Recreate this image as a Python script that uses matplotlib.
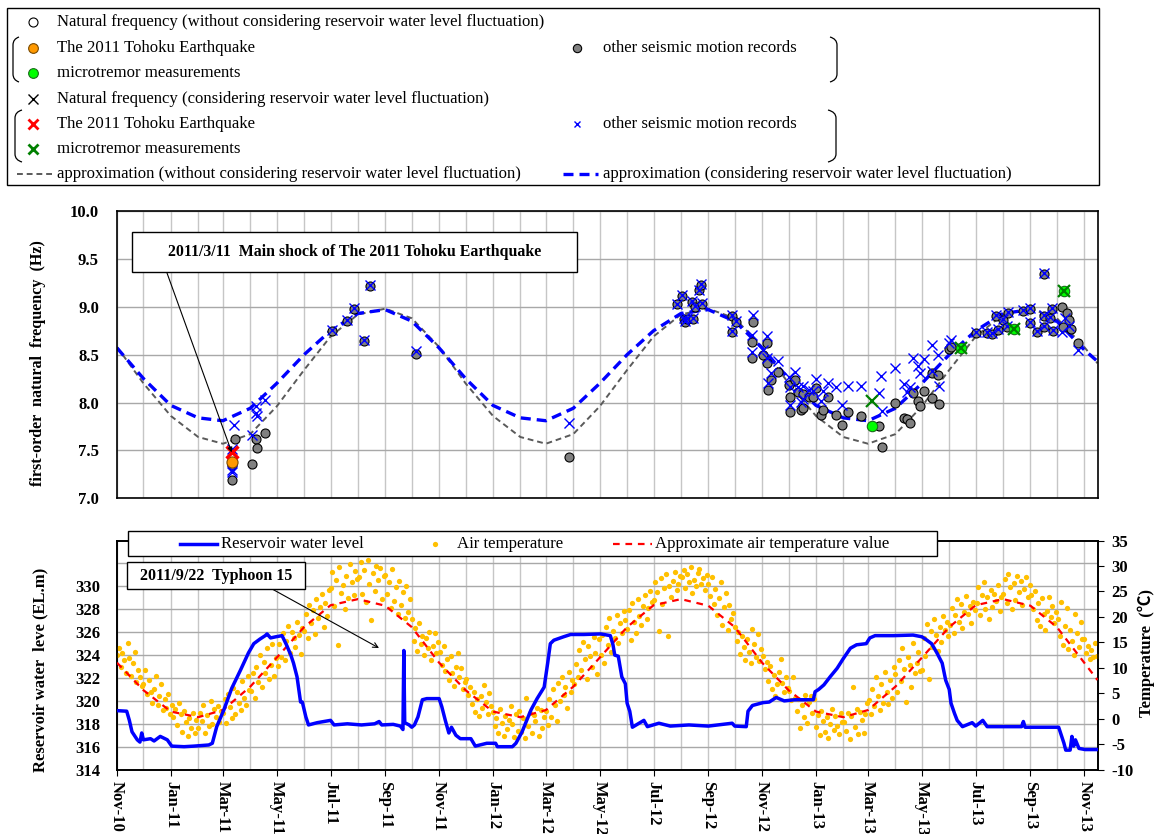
import matplotlib
matplotlib.use("Agg")
import matplotlib.pyplot as plt
import matplotlib.dates as mdates
import matplotlib.ticker as mticker
from matplotlib.patches import Rectangle, PathPatch
from matplotlib.path import Path
import pandas as pd

plt.rcParams["font.family"] = ["Liberation Serif", "Noto Sans CJK JP"]
plt.rcParams["font.weight"] = "bold"
plt.rcParams["axes.unicode_minus"] = False

# ---------------------------------------------------------------- data
x_start, x_end = "2010-11-01", "2013-11-16"

# natural frequency, other seismic motion records (without water level correction)
rec_dates = [
    "2011-03-11", "2011-03-11", "2011-03-15", "2011-04-03", "2011-04-07", "2011-04-09", "2011-04-18",
    "2011-07-03", "2011-07-20", "2011-07-27", "2011-08-08", "2011-08-15", "2011-10-06", "2012-03-27",
    "2012-07-28", "2012-08-02", "2012-08-04", "2012-08-06", "2012-08-08", "2012-08-13", "2012-08-15",
    "2012-08-17", "2012-08-22", "2012-08-24", "2012-08-25", "2012-09-28", "2012-09-28", "2012-10-02",
    "2012-10-22", "2012-10-21", "2012-10-21", "2012-11-02", "2012-11-06", "2012-11-06", "2012-11-08",
    "2012-11-11", "2012-11-19", "2012-12-01", "2012-12-03", "2012-12-03", "2012-12-08", "2012-12-12",
    "2012-12-15", "2012-12-17", "2012-12-17", "2012-12-24", "2012-12-29", "2013-01-01", "2013-01-07",
    "2013-01-09", "2013-01-15", "2013-01-24", "2013-01-30", "2013-02-06", "2013-02-21", "2013-03-13",
    "2013-03-17", "2013-04-01", "2013-04-11", "2013-04-14", "2013-04-18", "2013-04-21", "2013-04-27",
    "2013-04-29", "2013-05-03", "2013-05-12", "2013-05-12", "2013-05-19", "2013-05-20", "2013-06-01",
    "2013-06-03", "2013-07-01", "2013-07-14", "2013-07-20", "2013-07-24", "2013-07-26", "2013-08-01",
    "2013-08-05", "2013-08-07", "2013-08-24", "2013-09-01", "2013-09-01", "2013-09-09", "2013-09-16",
    "2013-09-16", "2013-09-16", "2013-09-23", "2013-09-25", "2013-09-27", "2013-10-07", "2013-10-08",
    "2013-10-12", "2013-10-15", "2013-10-17", "2013-10-25",
]
rec_freq = [
    7.35, 7.19, 7.62, 7.36, 7.62, 7.53, 7.68,
    8.75, 8.85, 8.98, 8.64, 9.22, 8.51, 7.43,
    9.03, 9.11, 8.87, 8.84, 8.87, 9.05, 8.87,
    9.00, 9.17, 9.23, 9.03, 8.90, 8.74, 8.84,
    8.84, 8.63, 8.47, 8.50, 8.62, 8.41, 8.13,
    8.24, 8.32, 8.18, 8.06, 7.90, 8.24, 8.11,
    7.92, 7.94, 8.09, 8.06, 8.06, 8.15, 7.87,
    7.92, 8.06, 7.87, 7.77, 7.90, 7.86, 7.75,
    7.54, 8.00, 7.84, 7.83, 7.79, 8.10, 8.02,
    7.96, 8.12, 8.31, 8.05, 8.29, 7.98, 8.56,
    8.58, 8.73, 8.73, 8.72, 8.90, 8.76, 8.86,
    8.79, 8.94, 8.96, 8.98, 8.83, 8.74, 8.79,
    8.90, 9.34, 8.88, 8.98, 8.75, 9.00, 8.79,
    8.93, 8.86, 8.77, 8.62,
]

# natural frequency, other seismic motion records (with water level correction)
rec_corr_dates = [
    "2011-03-11", "2011-03-11", "2011-03-11", "2011-03-14", "2011-04-03", "2011-04-07", "2011-04-08",
    "2011-04-09", "2011-04-18", "2011-07-03", "2011-07-20", "2011-07-27", "2011-08-08", "2011-08-15",
    "2011-10-06", "2012-03-27", "2012-07-28", "2012-08-02", "2012-08-04", "2012-08-06", "2012-08-08",
    "2012-08-13", "2012-08-15", "2012-08-17", "2012-08-22", "2012-08-24", "2012-08-25", "2012-09-28",
    "2012-09-28", "2012-10-02", "2012-10-22", "2012-10-21", "2012-10-21", "2012-11-02", "2012-11-06",
    "2012-11-06", "2012-11-08", "2012-11-11", "2012-11-19", "2012-12-01", "2012-12-03", "2012-12-03",
    "2012-12-08", "2012-12-12", "2012-12-15", "2012-12-17", "2012-12-17", "2012-12-24", "2012-12-29",
    "2013-01-01", "2013-01-07", "2013-01-09", "2013-01-15", "2013-01-24", "2013-01-30", "2013-02-06",
    "2013-02-21", "2013-03-13", "2013-03-16", "2013-03-17", "2013-04-01", "2013-04-11", "2013-04-14",
    "2013-04-18", "2013-04-21", "2013-04-27", "2013-04-29", "2013-05-03", "2013-05-12", "2013-05-12",
    "2013-05-19", "2013-05-20", "2013-06-01", "2013-06-03", "2013-07-01", "2013-07-14", "2013-07-20",
    "2013-07-24", "2013-07-26", "2013-08-01", "2013-08-05", "2013-08-07", "2013-08-24", "2013-09-01",
    "2013-09-01", "2013-09-09", "2013-09-16", "2013-09-16", "2013-09-16", "2013-09-23", "2013-09-25",
    "2013-09-27", "2013-10-07", "2013-10-10", "2013-10-15", "2013-10-25",
]
rec_corr_freq = [
    7.52, 7.30, 7.27, 7.77, 7.66, 7.89, 7.96,
    7.86, 8.03, 8.76, 8.86, 8.99, 8.65, 9.23,
    8.54, 7.79, 9.03, 9.12, 8.88, 8.85, 8.88,
    9.06, 8.88, 9.01, 9.18, 9.24, 9.04, 8.91,
    8.75, 8.85, 8.91, 8.70, 8.53, 8.55, 8.69,
    8.47, 8.20, 8.31, 8.43, 8.27, 8.16, 7.97,
    8.32, 8.16, 8.01, 8.04, 8.17, 8.13, 8.12,
    8.25, 8.02, 8.12, 8.20, 8.16, 7.97, 8.17,
    8.17, 8.10, 8.28, 7.91, 8.36, 8.19, 8.11,
    8.16, 8.47, 8.38, 8.31, 8.45, 8.60, 8.33,
    8.50, 8.17, 8.62, 8.65, 8.74, 8.74, 8.73,
    8.91, 8.77, 8.87, 8.80, 8.95, 8.97, 8.99,
    8.84, 8.75, 8.80, 8.91, 9.35, 8.89, 8.99,
    8.76, 8.74, 8.88, 8.80, 8.55,
]

# 2011 Tohoku Earthquake main shock
quake_date = "2011-03-11"
quake_freq = 7.38
quake_freq_corr = 7.48

# microtremor measurements
micro_dates = ["2013-03-06", "2013-06-14", "2013-08-13", "2013-10-09"]
micro_freq = [7.75, 8.57, 8.77, 9.16]
micro_freq_corr = [8.02, 8.57, 8.77, 9.16]

# approximation curves, first of each month from Nov-10 to Nov-13, plus the axis end
approx_dates = [d.strftime("%Y-%m-%d") for d in pd.date_range("2010-11-01", "2013-11-01", freq="MS")] + [x_end]
approx_plain = [
    8.58, 8.20, 7.86, 7.64, 7.57, 7.67, 7.96, 8.34, 8.69, 8.92, 8.98, 8.88,
    8.58, 8.20, 7.86, 7.64, 7.57, 7.67, 7.96, 8.34, 8.69, 8.92, 8.98, 8.88,
    8.58, 8.20, 7.86, 7.64, 7.57, 7.67, 7.96, 8.34, 8.69, 8.92, 8.98, 8.88,
    8.58, 8.41,
]
approx_corr = [
    8.57, 8.25, 7.97, 7.84, 7.81, 7.94, 8.20, 8.50, 8.75, 8.93, 8.97, 8.85,
    8.57, 8.25, 7.97, 7.84, 7.81, 7.94, 8.20, 8.50, 8.75, 8.93, 8.97, 8.85,
    8.57, 8.25, 7.97, 7.84, 7.81, 7.94, 8.20, 8.50, 8.75, 8.93, 8.97, 8.85,
    8.55, 8.43,
]
approx_temp = [
    11.0, 5.6, 1.4, 0.3, 1.7, 6.3, 12.0, 18.0, 22.3, 23.5, 22.2, 18.0,
    11.0, 5.6, 1.4, 0.3, 1.7, 6.3, 12.0, 18.0, 22.3, 23.5, 22.2, 18.0,
    11.0, 5.6, 1.4, 0.3, 1.7, 6.3, 12.0, 18.0, 22.3, 23.5, 22.2, 18.0,
    11.0, 7.6,
]

# reservoir water level (EL.m)
level_dates = [
    "2010-11-01", "2010-11-12", "2010-11-15", "2010-11-18", "2010-11-24", "2010-11-27", "2010-11-29",
    "2010-12-01", "2010-12-09", "2010-12-13", "2010-12-20", "2010-12-28", "2011-01-02", "2011-01-16",
    "2011-01-27", "2011-02-13", "2011-02-17", "2011-02-22", "2011-03-02", "2011-03-11", "2011-03-21",
    "2011-03-30", "2011-04-05", "2011-04-12", "2011-04-18", "2011-04-20", "2011-04-24", "2011-04-30",
    "2011-05-07", "2011-05-12", "2011-05-17", "2011-05-20", "2011-05-24", "2011-05-26", "2011-05-28",
    "2011-05-30", "2011-06-03", "2011-06-06", "2011-06-16", "2011-07-01", "2011-07-05", "2011-07-20",
    "2011-08-05", "2011-08-20", "2011-08-25", "2011-08-28", "2011-09-10", "2011-09-18", "2011-09-21",
    "2011-09-22", "2011-09-23", "2011-09-28", "2011-10-01", "2011-10-04", "2011-10-08", "2011-10-13",
    "2011-10-18", "2011-11-01", "2011-11-04", "2011-11-08", "2011-11-12", "2011-11-15", "2011-11-20",
    "2011-11-25", "2011-12-07", "2011-12-12", "2011-12-25", "2012-01-04", "2012-01-06", "2012-01-23",
    "2012-01-27", "2012-02-03", "2012-02-13", "2012-02-20", "2012-02-28", "2012-03-03", "2012-03-06",
    "2012-03-10", "2012-03-21", "2012-03-29", "2012-04-13", "2012-05-02", "2012-05-13", "2012-05-16",
    "2012-05-18", "2012-05-22", "2012-05-26", "2012-05-30", "2012-06-01", "2012-06-04", "2012-06-07",
    "2012-06-20", "2012-06-24", "2012-07-07", "2012-07-20", "2012-08-10", "2012-09-01", "2012-09-28",
    "2012-10-01", "2012-10-14", "2012-10-16", "2012-10-21", "2012-11-02", "2012-11-09", "2012-11-17",
    "2012-11-26", "2012-12-08", "2012-12-29", "2012-12-31", "2013-01-04", "2013-01-10", "2013-01-17",
    "2013-01-25", "2013-02-01", "2013-02-09", "2013-02-16", "2013-02-27", "2013-03-03", "2013-03-09",
    "2013-03-30", "2013-04-21", "2013-05-01", "2013-05-05", "2013-05-12", "2013-05-18", "2013-05-24",
    "2013-05-28", "2013-06-01", "2013-06-03", "2013-06-07", "2013-06-10", "2013-06-16", "2013-06-27",
    "2013-07-01", "2013-07-09", "2013-07-14", "2013-08-22", "2013-08-24", "2013-08-26", "2013-10-03",
    "2013-10-09", "2013-10-11", "2013-10-16", "2013-10-18", "2013-10-20", "2013-10-22", "2013-10-26",
    "2013-11-02", "2013-11-16",
]
level_values = [
    319.15, 319.10, 318.30, 317.30, 316.60, 316.40, 317.20,
    316.60, 316.70, 316.50, 316.90, 316.60, 316.05, 316.00,
    316.05, 316.15, 316.30, 317.75, 319.20, 321.10, 322.70,
    324.20, 325.00, 325.40, 325.70, 325.85, 325.50, 325.60,
    325.70, 324.90, 324.00, 323.30, 322.10, 321.00, 319.90,
    319.90, 318.60, 317.90, 318.10, 318.30, 317.90, 318.00,
    317.90, 318.00, 318.20, 317.90, 317.95, 317.80, 317.50,
    324.40, 318.10, 317.90, 317.70, 317.90, 318.60, 320.10,
    320.20, 320.20, 319.50, 318.30, 317.20, 317.70, 317.00,
    316.70, 316.70, 316.05, 316.30, 316.30, 316.00, 316.00,
    316.30, 317.30, 319.20, 320.20, 321.20, 323.30, 325.00,
    325.30, 325.60, 325.80, 325.80, 325.85, 325.70, 324.90,
    324.00, 323.90, 322.10, 321.50, 319.80, 319.10, 317.70,
    318.30, 317.75, 318.05, 317.80, 317.90, 317.80, 318.05,
    317.80, 317.75, 319.10, 319.60, 319.85, 319.90, 320.30,
    320.00, 320.10, 320.10, 320.80, 321.00, 321.40, 322.10,
    322.85, 323.70, 324.60, 324.90, 325.00, 325.50, 325.70,
    325.70, 325.75, 325.60, 325.40, 325.00, 324.20, 323.30,
    321.80, 321.00, 319.80, 318.90, 318.30, 317.75, 318.10,
    317.80, 318.30, 317.75, 317.75, 318.20, 317.70, 317.70,
    316.30, 315.70, 315.70, 316.90, 316.05, 316.60, 315.85,
    315.75, 315.75,
]

# air temperature (deg C), one reading every 2 days from 2010-11-01 (one line per month)
air_temp = [
    12.5, 13.8, 10.2, 12.9, 11.6, 9.0, 14.8, 11.9, 8.4, 10.9, 13.2, 7.2, 9.6, 8.1, 6.4,
    6.8, 9.5, 4.9, 7.6, 5.3, 3.1, 5.8, 8.4, 2.6, 4.4, 6.9, 1.8, 3.9, 2.2, 4.8, 0.9,
    2.7, 0.4, 1.9, -1.2, 3.1, 0.9, -2.6, 1.5, -0.6, -3.4, 0.2, -1.9, 1.1, -2.8, -0.3,
    -1.8, 1.1, -0.4, 2.6, -2.9, 0.7, -1.5, 3.4, -1.0, 1.9, 0.3, 2.4, -0.6, 1.5,
    1.2, 3.9, -0.8, 4.8, 2.3, 0.1, 6.1, 0.9, 5.2, 3.0, 1.7, 7.4, 4.1, 2.6, 8.3, 5.6,
    5.5, 8.9, 4.1, 10.2, 7.3, 12.6, 6.2, 11.1, 9.0, 13.8, 7.9, 10.6, 14.6, 8.4, 12.0,
    10.4, 14.6, 12.1, 16.9, 11.5, 15.3, 18.2, 13.0, 17.1, 15.9, 14.0, 19.1, 16.4, 12.7, 17.8,
    17.2, 20.5, 15.8, 22.3, 18.9, 21.4, 16.6, 23.6, 19.7, 21.9, 24.5, 18.1, 22.8, 20.2, 25.3,
    25.6, 28.9, 22.1, 27.3, 14.4, 29.8, 24.7, 26.2, 21.5, 28.1, 23.8, 30.4, 26.9, 24.3, 29.1, 27.5,
    27.8, 30.7, 24.5, 29.3, 22.9, 31.2, 26.4, 19.3, 28.6, 25.1, 30.1, 27.2, 29.7, 23.6, 28.0,
    28.3, 24.6, 26.9, 21.7, 29.4, 23.2, 25.8, 20.5, 27.0, 22.4, 24.9, 19.8, 26.1, 21.0, 23.5,
    19.6, 15.2, 17.8, 13.4, 18.9, 14.7, 16.3, 12.5, 15.9, 13.8, 17.1, 11.6, 14.2, 16.8, 12.9, 15.0,
    13.1, 10.6, 14.2, 9.3, 11.8, 7.6, 12.4, 8.9, 6.5, 10.1, 12.9, 8.2, 9.9, 5.8, 7.3,
    7.9, 4.6, 6.2, 2.8, 5.3, 1.4, 3.9, 0.6, 4.4, 2.1, 6.7, 3.3, 1.0, 5.1, 2.5,
    1.3, -1.5, 0.2, -2.9, 1.9, -0.8, -3.3, 0.5, -2.1, -0.2, 2.4, -1.1, -3.6, 0.9, -2.4, 1.6,
    -2.6, 0.1, -3.8, 4.0, -1.4, 1.2, -2.9, 0.7, -0.5, 2.2, -3.3, 1.7, -1.9, 0.4,
    1.6, -1.2, 3.8, 0.4, 5.9, 2.7, -0.4, 7.1, 3.4, 8.2, 4.6, 6.3, 2.1, 9.1, 5.2, 7.7,
    6.9, 10.8, 8.1, 13.5, 9.6, 15.0, 11.7, 7.8, 14.2, 12.3, 10.1, 16.1, 13.0, 8.8, 15.6,
    12.6, 16.4, 10.9, 18.1, 14.5, 19.7, 13.2, 17.3, 15.8, 20.4, 14.9, 18.8, 16.9, 21.2, 19.3,
    17.6, 21.3, 15.4, 22.8, 19.0, 16.8, 23.5, 20.2, 18.5, 22.1, 24.4, 19.6, 21.7, 25.0, 23.0,
    23.4, 26.8, 24.9, 17.3, 27.6, 22.5, 25.7, 28.4, 16.2, 26.1, 24.0, 27.1, 28.9, 25.3, 26.5, 28.0,
    27.9, 29.2, 25.6, 28.5, 26.8, 29.8, 24.7, 27.3, 26.1, 28.7, 29.5, 26.4, 27.6, 25.2, 28.2,
    26.5, 24.1, 27.8, 22.6, 25.4, 20.3, 23.8, 26.9, 18.5, 21.9, 24.7, 17.4, 22.3, 19.6, 20.8,
    18.1, 15.3, 17.0, 12.8, 16.2, 14.0, 11.6, 15.7, 13.2, 10.9, 17.6, 14.6, 12.1, 16.6, 11.3, 13.7,
    12.4, 9.8, 11.2, 7.5, 10.3, 5.9, 8.6, 4.5, 6.8, 9.1, 11.7, 7.1, 5.2, 8.2, 6.1,
    5.4, 3.6, 8.2, 4.1, 1.5, 3.9, -1.8, 2.6, 0.4, 4.7, -0.9, 3.3, 4.4, 1.1, 3.8,
    -1.6, 0.8, -3.2, 1.5, -0.4, -2.7, 0.3, -3.8, -1.1, 1.9, -2.2, 0.6, -1.4, -3.0, 1.2, -0.7,
    -0.6, -2.4, 1.2, -3.9, 0.5, 6.2, -1.7, 2.0, -3.0, 1.4, -0.2, -2.9, 0.9, 3.1,
    3.6, 0.9, 5.8, 2.4, 8.1, 4.5, 1.8, 6.9, 3.1, 9.2, 5.3, 2.9, 7.6, 4.0, 10.1,
    8.7, 5.2, 11.6, 7.4, 13.9, 9.8, 3.2, 12.2, 10.5, 6.3, 14.8, 8.9, 11.0, 13.1, 9.4,
    9.5, 15.8, 12.4, 18.6, 7.9, 17.2, 14.1, 19.6, 16.5, 13.3, 18.0, 15.1, 20.1, 17.5, 19.0, 16.2,
    18.4, 21.7, 16.9, 20.3, 23.5, 19.1, 22.6, 17.8, 21.0, 24.2, 20.6, 22.2, 18.9, 23.0, 21.4,
    22.7, 25.9, 20.4, 24.3, 26.8, 21.6, 23.9, 19.5, 25.2, 22.0, 24.6, 23.1, 26.2, 21.2, 24.0,
    24.6, 27.5, 22.8, 28.4, 25.9, 21.5, 26.7, 23.4, 28.1, 24.9, 27.0, 22.3, 25.5, 27.9, 23.9, 26.3,
    24.3, 21.6, 25.1, 19.4, 22.8, 18.2, 23.7, 20.5, 17.4, 21.2, 24.0, 19.9, 22.1, 18.8, 20.9,
    19.6, 16.3, 22.9, 14.5, 18.2, 21.8, 13.7, 17.4, 15.2, 12.6, 20.5, 16.8, 14.1, 19.0, 15.7,
    15.6, 12.9, 14.3, 11.7, 13.5, 12.2, 14.9, 12.4,
]

# ---------------------------------------------------------------- figure
W, H = 1157, 834
fig = plt.figure(figsize=(W / 100, H / 100), dpi=100)


def px_rect(left, top, right, bottom):
    return [left / W, 1 - bottom / H, (right - left) / W, (bottom - top) / H]


td = pd.to_datetime
xlim = (td(x_start), td(x_end))
grid_v = dict(color="#C6C6C6", lw=1.0)
grid_h = dict(color="#A8A8A8", lw=1.0)
BLUE, GREY_LINE, GOLD = "#0000FF", "#5A5A5A", "#FFC000"

# ---------------- natural frequency panel
ax1 = fig.add_axes(px_rect(117, 211, 1097.5, 498.3))
ax1.set_xlim(*xlim)
ax1.set_ylim(7.0, 10.0)
ax1.yaxis.set_major_locator(mticker.MultipleLocator(0.5))
ax1.yaxis.set_major_formatter(mticker.FormatStrFormatter("%.1f"))
ax1.xaxis.set_major_locator(mdates.MonthLocator())
ax1.tick_params(axis="x", length=0, labelbottom=False)
ax1.tick_params(axis="y", length=0, pad=13, labelsize=12)
ax1.grid(axis="x", **grid_v)
ax1.grid(axis="y", **grid_h)
ax1.set_axisbelow(True)
for s in ax1.spines.values():
    s.set_linewidth(1.2)

ax1.plot(td(approx_dates), approx_plain, color=GREY_LINE, lw=1.4, dashes=(3.0, 2.0), zorder=2)
ax1.plot(td(approx_dates), approx_corr, color=BLUE, lw=2.4, dashes=(3.0, 1.8), zorder=2.5)
ax1.plot(td(rec_dates), rec_freq, "o", ms=6.5, mfc="#808080", mec="black", mew=0.8, zorder=3)
ax1.plot(td(rec_corr_dates), rec_corr_freq, "x", ms=6.5, color=BLUE, mew=1.0, zorder=4)
ax1.plot(td(micro_dates), micro_freq, "o", ms=7.5, mfc="#00FF00", mec="#1A6B1A", mew=0.8, zorder=5)
ax1.plot(td(micro_dates), micro_freq_corr, "x", ms=8.5, color="#008000", mew=1.6, zorder=6)
ax1.plot(td([quake_date]), [quake_freq], "o", ms=8.0, mfc="#FF9900", mec="#7A4A00", mew=0.8, zorder=5)
ax1.plot(td([quake_date]), [quake_freq_corr], "x", ms=8.0, color="#FF0000", mew=2.4, zorder=6)

# ---------------- water level / air temperature panel
ax2 = fig.add_axes(px_rect(117, 540.6, 1097.5, 769.6))
ax2r = ax2.twinx()
ax2.set_xlim(*xlim)
ax2.set_ylim(314, 334)
ax2.yaxis.set_major_locator(mticker.FixedLocator(list(range(314, 334, 2))))
ax2.yaxis.set_major_formatter(mticker.FuncFormatter(lambda v, p: f"{v:.0f}" if v <= 330 else ""))
ax2.xaxis.set_major_locator(mdates.MonthLocator(bymonth=(1, 3, 5, 7, 9, 11)))
ax2.xaxis.set_minor_locator(mdates.MonthLocator())
ax2.xaxis.set_major_formatter(mdates.DateFormatter("%b-%y"))
ax2.tick_params(axis="x", which="major", length=4, direction="out", pad=4, labelsize=12, labelrotation=270)
ax2.tick_params(axis="x", which="minor", length=0)
ax2.tick_params(axis="y", length=0, pad=12, labelsize=12)
ax2.grid(axis="x", which="both", **grid_v)
ax2.grid(axis="y", **grid_h)
ax2.set_axisbelow(True)

ax2r.set_ylim(-10, 35)
ax2r.yaxis.set_major_locator(mticker.MultipleLocator(5))
ax2r.tick_params(axis="y", length=4, direction="out", pad=6, labelsize=12)
for a in (ax2, ax2r):
    for s in a.spines.values():
        s.set_linewidth(1.2)

temp_dates = pd.date_range(x_start, periods=len(air_temp), freq="2D")
ax2r.plot(temp_dates, air_temp, "o", ms=3.8, color=GOLD, mec="none", zorder=2)
ax2r.plot(td(approx_dates), approx_temp, color="#FF0000", lw=1.6, dashes=(3.0, 2.6), zorder=3)
ax2r.plot(td(level_dates), level_values, color=BLUE, lw=2.5, transform=ax2.transData, zorder=4)
ax2r.set_xlim(*xlim)
ax2r.set_ylim(-10, 35)

# ---------------- overlay in pixel coordinates (legends, notes, axis titles)
ov = fig.add_axes([0, 0, 1, 1])
ov.set_xlim(0, W)
ov.set_ylim(H, 0)
ov.axis("off")
ov.set_zorder(10)

LEG_FS = 12.1
ov.add_patch(Rectangle((7, 8), 1092, 177, fill=False, ec="black", lw=1.0))
rows = [22, 48, 73, 99, 124, 149, 174]
mx1, tx1, mx2, tx2 = 33, 57, 577, 603
leg_txt = dict(fontsize=LEG_FS, va="center", ha="left", weight="normal")

ov.plot([mx1], [rows[0]], "o", ms=6.5, mfc="white", mec="black", mew=0.8)
ov.text(tx1, rows[0], "Natural frequency (without considering reservoir water level fluctuation)", **leg_txt)
ov.plot([mx1], [rows[1]], "o", ms=7.0, mfc="#FF9900", mec="#7A4A00", mew=0.8)
ov.text(tx1, rows[1], "The 2011 Tohoku Earthquake", **leg_txt)
ov.plot([mx2], [rows[1]], "o", ms=6.0, mfc="#808080", mec="black", mew=0.8)
ov.text(tx2, rows[1], "other seismic motion records", **leg_txt)
ov.plot([mx1], [rows[2]], "o", ms=7.0, mfc="#00FF00", mec="#1A6B1A", mew=0.8)
ov.text(tx1, rows[2], "microtremor measurements", **leg_txt)
ov.plot([mx1], [rows[3]], "x", ms=6.5, color="black", mew=1.0)
ov.text(tx1, rows[3], "Natural frequency (considering reservoir water level fluctuation)", **leg_txt)
ov.plot([mx1], [rows[4]], "x", ms=7.0, color="#FF0000", mew=2.0)
ov.text(tx1, rows[4], "The 2011 Tohoku Earthquake", **leg_txt)
ov.plot([mx2], [rows[4]], "x", ms=5.0, color=BLUE, mew=1.0)
ov.text(tx2, rows[4], "other seismic motion records", **leg_txt)
ov.plot([mx1], [rows[5]], "x", ms=7.0, color="#008000", mew=2.0)
ov.text(tx1, rows[5], "microtremor measurements", **leg_txt)
ov.plot([17, 54], [rows[6]] * 2, color=GREY_LINE, lw=1.4, dashes=(3.0, 2.0))
ov.text(tx1, rows[6], "approximation (without considering reservoir water level fluctuation)", **leg_txt)
ov.plot([563, 598], [rows[6]] * 2, color=BLUE, lw=2.4, dashes=(3.0, 1.8))
ov.text(tx2, rows[6], "approximation (considering reservoir water level fluctuation)", **leg_txt)


def bracket(x_edge, x_in, top, bottom):
    verts = [(x_in, top), (x_edge, top + 2), (x_edge, top + 8),
             (x_edge, bottom - 8),
             (x_edge, bottom - 2), (x_in, bottom)]
    codes = [Path.MOVETO, Path.CURVE3, Path.CURVE3, Path.LINETO, Path.CURVE3, Path.CURVE3]
    ov.add_patch(PathPatch(Path(verts, codes), fill=False, ec="black", lw=0.9))


bracket(13, 19, 37, 82)
bracket(15, 22, 110, 162)
bracket(837, 830, 37, 82)
bracket(836, 828, 110, 162)

# note on the main shock
ov.add_patch(Rectangle((132, 232), 445, 40, fc="white", ec="black", lw=1.0))
ov.text(354.5, 252, "2011/3/11  Main shock of The 2011 Tohoku Earthquake", ha="center", va="center", fontsize=11.4)
ax1.annotate("", xy=(td(quake_date), quake_freq_corr), xycoords="data",
             xytext=(167, 273), textcoords=ov.transData,
             arrowprops=dict(arrowstyle="-|>", color="black", lw=0.8, mutation_scale=7, shrinkA=0, shrinkB=0),
             zorder=7)

# note on the typhoon
ov.add_patch(Rectangle((127, 562), 178, 27, fc="white", ec="black", lw=1.0))
ov.text(216, 575.5, "2011/9/22  Typhoon 15", ha="center", va="center", fontsize=11.5)
ov.annotate("", xy=(379, 648), xytext=(273, 589.5),
            arrowprops=dict(arrowstyle="->", color="black", lw=0.8, mutation_scale=9, shrinkA=0, shrinkB=0))

# legend of the lower panel
ov.add_patch(Rectangle((128, 531), 809, 25, fc="white", ec="black", lw=1.0))
ov.plot([180, 217], [543.5, 543.5], color=BLUE, lw=2.5)
ov.text(221, 543.5, "Reservoir water level", **leg_txt)
ov.plot([435], [543.5], "o", ms=3.8, color=GOLD, mec="none")
ov.text(457, 543.5, "Air temperature", **leg_txt)
ov.plot([613, 652], [543.5, 543.5], color="#FF0000", lw=1.6, dashes=(3.0, 2.6))
ov.text(655, 543.5, "Approximate air temperature value", **leg_txt)

# axis titles
ov.text(38, 363, "first-order  natural  frequency  (Hz)", rotation=90, ha="center", va="center", fontsize=11.6)
ov.text(40, 670, "Reservoir water  leve (EL.m)", rotation=90, ha="center", va="center", fontsize=12)
ov.text(1146, 653, "Temperature  (℃)", rotation=90, ha="center", va="center", fontsize=12)

fig.savefig("out.png", dpi=100)
